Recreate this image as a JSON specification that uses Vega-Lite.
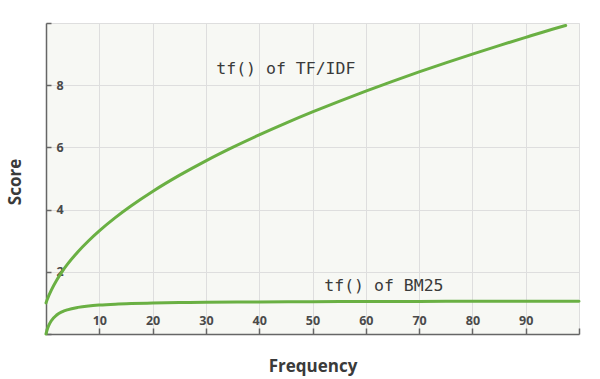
{
  "$schema": "https://vega.github.io/schema/vega-lite/v6.json",
  "width": 533,
  "height": 311,
  "autosize": "none",
  "padding": {"left": 46, "top": 23, "right": 21, "bottom": 45},
  "background": "white",
  "config": {
    "view": {"fill": "#f7f8f4", "stroke": "#e2e2e2"},
    "axis": {
      "gridColor": "#dedede",
      "gridWidth": 1,
      "domainColor": "#666666",
      "domainWidth": 1.5,
      "tickColor": "#666666",
      "tickWidth": 1.5,
      "labelFont": "Open Sans",
      "labelFontWeight": "bold",
      "labelFontSize": 12.5,
      "labelColor": "#4a4a4a",
      "titleFont": "Open Sans",
      "titleFontWeight": "bold",
      "titleFontSize": 17,
      "titleColor": "#3a3a3a"
    }
  },
  "datasets": {
    "curves": [
      {"freq": 0, "score": 1.0, "series": "TF/IDF"},
      {"freq": 0.25, "score": 1.118, "series": "TF/IDF"},
      {"freq": 0.5, "score": 1.225, "series": "TF/IDF"},
      {"freq": 1, "score": 1.414, "series": "TF/IDF"},
      {"freq": 2, "score": 1.732, "series": "TF/IDF"},
      {"freq": 3, "score": 2.0, "series": "TF/IDF"},
      {"freq": 4, "score": 2.236, "series": "TF/IDF"},
      {"freq": 6, "score": 2.646, "series": "TF/IDF"},
      {"freq": 8, "score": 3.0, "series": "TF/IDF"},
      {"freq": 10, "score": 3.317, "series": "TF/IDF"},
      {"freq": 13, "score": 3.742, "series": "TF/IDF"},
      {"freq": 16, "score": 4.123, "series": "TF/IDF"},
      {"freq": 20, "score": 4.583, "series": "TF/IDF"},
      {"freq": 25, "score": 5.099, "series": "TF/IDF"},
      {"freq": 30, "score": 5.568, "series": "TF/IDF"},
      {"freq": 35, "score": 6.0, "series": "TF/IDF"},
      {"freq": 40, "score": 6.403, "series": "TF/IDF"},
      {"freq": 45, "score": 6.782, "series": "TF/IDF"},
      {"freq": 50, "score": 7.141, "series": "TF/IDF"},
      {"freq": 55, "score": 7.483, "series": "TF/IDF"},
      {"freq": 60, "score": 7.81, "series": "TF/IDF"},
      {"freq": 65, "score": 8.124, "series": "TF/IDF"},
      {"freq": 70, "score": 8.426, "series": "TF/IDF"},
      {"freq": 75, "score": 8.718, "series": "TF/IDF"},
      {"freq": 80, "score": 9.0, "series": "TF/IDF"},
      {"freq": 85, "score": 9.274, "series": "TF/IDF"},
      {"freq": 90, "score": 9.539, "series": "TF/IDF"},
      {"freq": 95, "score": 9.798, "series": "TF/IDF"},
      {"freq": 97.5, "score": 9.92, "series": "TF/IDF"},
      {"freq": 0, "score": 0, "series": "BM25"},
      {"freq": 0.25, "score": 0.153, "series": "BM25"},
      {"freq": 0.5, "score": 0.268, "series": "BM25"},
      {"freq": 1, "score": 0.428, "series": "BM25"},
      {"freq": 2, "score": 0.611, "series": "BM25"},
      {"freq": 3, "score": 0.713, "series": "BM25"},
      {"freq": 4, "score": 0.778, "series": "BM25"},
      {"freq": 6, "score": 0.856, "series": "BM25"},
      {"freq": 8, "score": 0.901, "series": "BM25"},
      {"freq": 10, "score": 0.93, "series": "BM25"},
      {"freq": 13, "score": 0.959, "series": "BM25"},
      {"freq": 16, "score": 0.978, "series": "BM25"},
      {"freq": 20, "score": 0.995, "series": "BM25"},
      {"freq": 25, "score": 1.009, "series": "BM25"},
      {"freq": 30, "score": 1.019, "series": "BM25"},
      {"freq": 40, "score": 1.031, "series": "BM25"},
      {"freq": 50, "score": 1.039, "series": "BM25"},
      {"freq": 60, "score": 1.044, "series": "BM25"},
      {"freq": 70, "score": 1.048, "series": "BM25"},
      {"freq": 80, "score": 1.05, "series": "BM25"},
      {"freq": 90, "score": 1.052, "series": "BM25"},
      {"freq": 100, "score": 1.054, "series": "BM25"}
    ],
    "labels": [
      {"freq": 45, "score": 8.53, "text": "tf() of TF/IDF"},
      {"freq": 63.4, "score": 1.54, "text": "tf() of BM25"}
    ]
  },
  "encoding": {
    "x": {
      "field": "freq",
      "type": "quantitative",
      "scale": {"domain": [0, 100], "nice": false, "zero": true},
      "axis": {
        "title": "Frequency",
        "values": [0, 10, 20, 30, 40, 50, 60, 70, 80, 90, 100],
        "labelExpr": "datum.value == 0 || datum.value == 100 ? '' : datum.label",
        "tickSize": -6,
        "labelPadding": -1,
        "labelBaseline": "bottom",
        "titleY": 37,
        "titleBaseline": "alphabetic",
        "labelFlush": false
      }
    },
    "y": {
      "field": "score",
      "type": "quantitative",
      "scale": {"domain": [0, 10], "nice": false},
      "axis": {
        "title": "Score",
        "values": [0, 2, 4, 6, 8, 10],
        "labelExpr": "datum.value == 0 || datum.value == 10 ? '' : datum.label",
        "tickSize": -5,
        "labelPadding": -5,
        "labelAlign": "left",
        "labelBaseline": "middle",
        "titleX": -22,
        "titleY": 158.5,
        "titleBaseline": "bottom",
        "labelFlush": false
      }
    }
  },
  "layer": [
    {
      "data": {"name": "curves"},
      "mark": {"type": "line", "color": "#6ab043", "strokeWidth": 3, "interpolate": "monotone", "strokeCap": "round"},
      "encoding": {"detail": {"field": "series"}}
    },
    {
      "data": {"name": "labels"},
      "mark": {"type": "text", "font": "DejaVu Sans Mono", "fontSize": 16.5, "letterSpacing": 1.6, "color": "#3a3a3a", "align": "center", "baseline": "middle"},
      "encoding": {"text": {"field": "text"}}
    }
  ]
}
